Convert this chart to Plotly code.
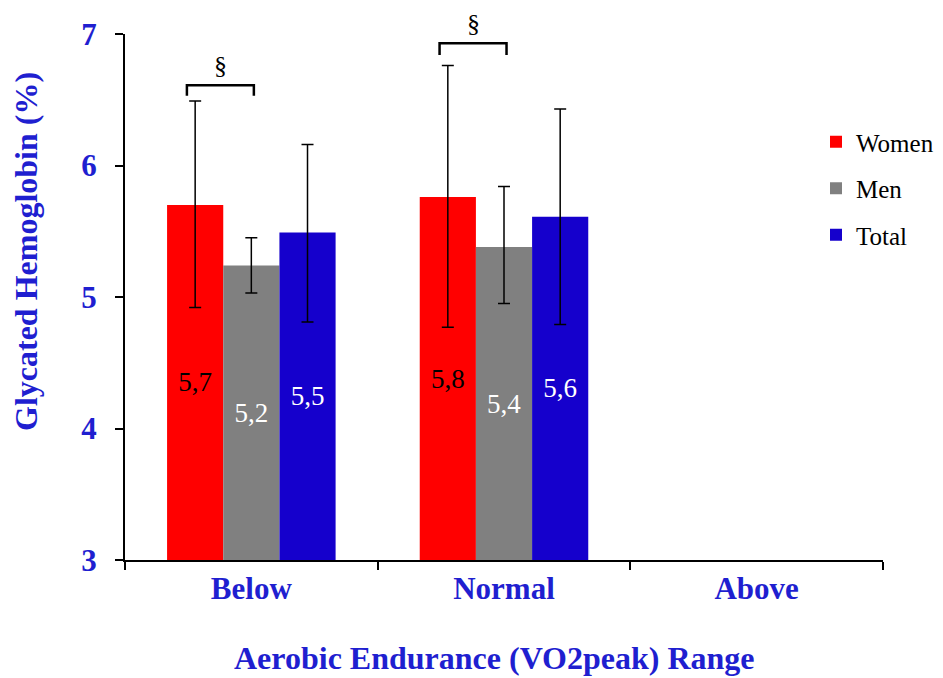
import plotly.graph_objects as go

categories = ["Below", "Normal", "Above"]
series_names = ["Women", "Men", "Total"]
women = [5.70, 5.76, None]
men = [5.24, 5.38, None]
total = [5.49, 5.61, None]
women_err_hi = [6.49, 6.76, None]
women_err_lo = [4.92, 4.77, None]
men_err_hi = [5.45, 5.84, None]
men_err_lo = [5.03, 4.95, None]
total_err_hi = [6.16, 6.43, None]
total_err_lo = [4.81, 4.79, None]
women_labels = ["5,7", "5,8", ""]
men_labels = ["5,2", "5,4", ""]
total_labels = ["5,5", "5,6", ""]
bracket_top = [6.61, 6.93]
bracket_foot = [6.53, 6.84]
sig_symbol = "§"
y_title = "Glycated Hemoglobin (%)"
x_title = "Aerobic Endurance (VO2peak) Range"

colors = ["#FF0000", "#808080", "#1500CC"]
text_colors = ["black", "white", "white"]
BLUE = "#1F1FD0"
FONT = "Liberation Serif, Times New Roman, serif"

# page body has an 8px default margin; compensate so the picture lines up
W, H = 935, 670
L, T, R, B = 117, 26, 60, 118
plot_w = W - L - R
plot_h = H - T - B

vals = [women, men, total]
his = [women_err_hi, men_err_hi, total_err_hi]
los = [women_err_lo, men_err_lo, total_err_lo]
labs = [women_labels, men_labels, total_labels]

fig = go.Figure()
for name, v, hi, lo, lab, c, tc in zip(series_names, vals, his, los, labs, colors, text_colors):
    plus = [(h - x) if x is not None else None for h, x in zip(hi, v)]
    minus = [(x - l) if x is not None else None for l, x in zip(lo, v)]
    fig.add_trace(go.Bar(
        x=categories, y=[(x - 3) if x is not None else None for x in v], base=3,
        name=name, legendgroup=name,
        marker=dict(color=c, line=dict(width=0)),
        error_y=dict(type="data", symmetric=False, array=plus, arrayminus=minus,
                     color="black", thickness=1.5, width=6),
        text=lab, textposition="inside", insidetextanchor="middle",
        textfont=dict(family=FONT, size=27, color=tc), textangle=0,
        cliponaxis=False,
    ))

# significance brackets (women vs men)
for i, (top, foot) in enumerate(zip(bracket_top, bracket_foot)):
    x0 = i - 0.255
    x1 = i + 0.01
    fig.add_shape(type="path",
                  path=f"M {x0} {foot} L {x0} {top} L {x1} {top} L {x1} {foot}",
                  xref="x", yref="y", line=dict(color="black", width=2.5))
    fig.add_annotation(x=(x0 + x1) / 2, y=top, yshift=3, text=sig_symbol, showarrow=False,
                       yanchor="bottom", font=dict(family=FONT, size=26, color="black"))

# axis titles placed like the reference
fig.add_annotation(xref="paper", yref="paper",
                   x=(18 - L) / plot_w, y=(T + plot_h - 244) / plot_h,
                   text=f"<b>{y_title}</b>", textangle=-90, showarrow=False,
                   xanchor="center", yanchor="middle",
                   font=dict(family=FONT, size=32, color=BLUE))
fig.add_annotation(xref="paper", yref="paper",
                   x=(486 - L) / plot_w, y=(T + plot_h - 650) / plot_h,
                   text=f"<b>{x_title}</b>", showarrow=False,
                   xanchor="center", yanchor="middle",
                   font=dict(family=FONT, size=32, color=BLUE))

fig.update_layout(
    width=W, height=H,
    margin=dict(l=L, r=R, t=T, b=B, autoexpand=False),
    plot_bgcolor="white", paper_bgcolor="white",
    barmode="group", bargap=0.333, bargroupgap=0,
    showlegend=True,
    legend=dict(xref="paper", yref="paper",
                x=(808 - L) / plot_w, y=(T + plot_h - 111) / plot_h,
                xanchor="left", yanchor="top",
                font=dict(family=FONT, size=25, color="black"),
                tracegroupgap=11, traceorder="grouped",
                itemwidth=30, bgcolor="rgba(0,0,0,0)"),
    xaxis=dict(
        type="category", range=[-0.5, 2.5], automargin=False,
        showline=True, linecolor="black", linewidth=2,
        ticks="outside", tickson="boundaries", ticklen=8, tickwidth=2, tickcolor="black",
        tickfont=dict(family=FONT, size=31, color=BLUE, weight="bold"),
        showgrid=False,
    ),
    yaxis=dict(
        range=[3, 7], tickvals=[3, 4, 5, 6, 7], automargin=False,
        showline=True, linecolor="black", linewidth=2,
        ticks="outside", ticklen=8, tickwidth=2, tickcolor="black",
        ticklabelstandoff=12,
        tickfont=dict(family=FONT, size=31, color=BLUE, weight="bold"),
        showgrid=False, zeroline=False,
    ),
)

fig.write_html("out.html")
